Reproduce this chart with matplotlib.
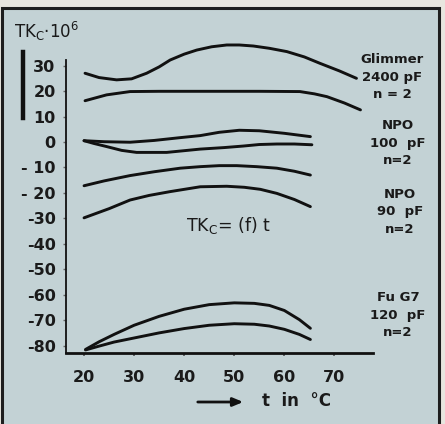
import matplotlib
matplotlib.use("Agg")
import matplotlib.pyplot as plt
from matplotlib.patches import Rectangle, FancyArrowPatch
from matplotlib.lines import Line2D

# ---- data ----
x_ticks = [20, 30, 40, 50, 60, 70]
y_ticks = [30, 20, 10, 0, -10, -20, -30, -40, -50, -60, -70, -80]
y_tick_labels = ["30", "20", "10", "0", "- 10", "- 20", "-30", "-40", "-50", "-60", "-70", "-80"]

glimmer_up_t = [20.2, 23, 26.5, 29.5, 32.5, 35, 37.2, 40, 42.5, 45.5, 48.5, 51, 53.8, 57, 60.5, 64, 67.1, 71, 74.4]
glimmer_up_v = [27.0, 25.3, 24.4, 24.8, 27.0, 29.5, 32.2, 34.5, 36.1, 37.4, 38.1, 38.1, 37.7, 36.8, 35.5, 33.4, 30.9, 27.9, 25.0]
glimmer_lo_t = [20.2, 24.5, 29.2, 35, 45, 55, 63.1, 66, 68.5, 72, 75.2]
glimmer_lo_v = [16.2, 18.5, 19.8, 19.9, 19.9, 19.9, 19.8, 18.9, 17.8, 15.3, 12.6]

npo100_up_t = [20, 24, 29.2, 34, 39.2, 43.2, 47, 51, 55, 60, 65.2]
npo100_up_v = [0.5, 0.1, -0.1, 0.6, 1.7, 2.5, 3.8, 4.6, 4.4, 3.4, 2.1]
npo100_lo_t = [20, 22, 24.5, 27.5, 30.5, 36.5, 43.2, 48, 51.8, 55, 58.5, 62, 65.5]
npo100_lo_v = [0.5, -0.6, -1.8, -3.3, -4.1, -4.1, -2.8, -2.2, -1.6, -1.0, -0.8, -0.8, -1.1]

npo90_up_t = [20, 24, 29.2, 34, 39.2, 43.2, 47, 50.5, 54.5, 58.5, 62, 65.2]
npo90_up_v = [-17.2, -15.3, -13.2, -11.7, -10.3, -9.7, -9.3, -9.3, -9.7, -10.3, -11.5, -13.0]
npo90_lo_t = [20, 25, 29.2, 33, 37.2, 43.2, 48.5, 52, 55.2, 58.5, 62, 65.2]
npo90_lo_v = [-29.8, -26.2, -22.8, -21.0, -19.5, -17.6, -17.4, -17.8, -18.6, -20.2, -22.6, -25.4]

fug7_up_t = [20.3, 23, 26, 30, 35, 40, 45, 50, 54, 57, 60, 63, 65.2]
fug7_up_v = [-81.5, -78.5, -75.6, -72.0, -68.5, -65.7, -63.9, -63.2, -63.4, -64.2, -66.2, -69.8, -73.2]
fug7_lo_t = [20.3, 23, 26, 30, 35, 40, 45, 50, 54, 57, 60, 63, 65.2]
fug7_lo_v = [-81.7, -80.2, -78.6, -77.0, -75.0, -73.3, -72.0, -71.4, -71.6, -72.3, -73.6, -75.6, -77.6]

series_labels = ["Glimmer\n2400 pF\nn = 2", "NPO\n100  pF\nn=2", "NPO\n90  pF\nn=2", "Fu G7\n120  pF\nn=2"]

# ---- figure ----
W, H = 445, 424
fig = plt.figure(figsize=(W / 100, H / 100), dpi=100)
fig.patch.set_facecolor("#e8e6df")

def fx(px):
    return px / W

def fy(py):
    return 1 - py / H

bg = Rectangle((fx(2), -0.05), fx(439) - fx(2), fy(8) + 0.05, transform=fig.transFigure,
               facecolor="#c3d2d5", edgecolor="#1e1e1e", linewidth=2.2, zorder=-5)
fig.patches.append(bg)

ax = fig.add_axes([fx(66), fy(353), fx(373) - fx(66), fy(60) - fy(353)])
ax.set_zorder(2)
ax.set_facecolor("none")
ax.set_xlim(16.4, 77.7)
ax.set_ylim(-82.9, 32.2)
for s in ["top", "right"]:
    ax.spines[s].set_visible(False)
ax.spines["left"].set_linewidth(1.3)
ax.spines["bottom"].set_linewidth(2.0)
ax.spines["left"].set_color("#111111")
ax.spines["bottom"].set_color("#111111")

ax.set_xticks(x_ticks)
ax.set_xticklabels([str(v) for v in x_ticks])
ax.set_yticks(y_ticks)
ax.set_yticklabels(y_tick_labels)
ax.tick_params(axis="x", length=2.5, width=1.2, color="#555555", pad=10, labelsize=11.5, labelcolor="#1a1a1a")
ax.tick_params(axis="y", length=2.5, width=1.0, color="#666666", pad=5, labelsize=11.5, labelcolor="#1a1a1a")
for lab in ax.get_xticklabels() + ax.get_yticklabels():
    lab.set_fontweight("bold")

curves = [
    (glimmer_up_t, glimmer_up_v), (glimmer_lo_t, glimmer_lo_v),
    (npo100_up_t, npo100_up_v), (npo100_lo_t, npo100_lo_v),
    (npo90_up_t, npo90_up_v), (npo90_lo_t, npo90_lo_v),
    (fug7_up_t, fug7_up_v), (fug7_lo_t, fug7_lo_v),
]
for t, v in curves:
    ax.plot(t, v, color="#111111", lw=2.1, solid_capstyle="round", solid_joinstyle="round", clip_on=False)

# series labels (right side)
label_pos = [(392, 62), (398, 128), (400, 197), (398, 300)]
for txt, (px, py) in zip(series_labels, label_pos):
    fig.text(fx(px), fy(py - 9), txt, ha="center", va="top", fontsize=9.5, fontweight="bold",
             color="#1a1a1a", linespacing=1.45)

# y-axis title
fig.text(fx(14), fy(38), r"TK$_\mathregular{C}$·10$^\mathregular{6}$", ha="left", va="baseline",
         fontsize=12, color="#1a1a1a")

# formula
fig.text(fx(186), fy(225), r"TK$_\mathregular{C}$= (f) t", ha="left", va="center",
         fontsize=12.5, color="#1a1a1a")

# x axis caption with arrow
fig.patches.append(FancyArrowPatch((fx(195), fy(402)), (fx(246), fy(402)),
                   transform=fig.transFigure, arrowstyle="-|>,head_length=6,head_width=2.5",
                   color="#111111", lw=2.0, mutation_scale=1))
fig.text(fx(262), fy(401), "t  in  °C", ha="left", va="center", fontsize=12, fontweight="bold",
         color="#1a1a1a")

# thick vertical mark at left
fig.lines.append(Line2D([fx(23), fx(23)], [fy(52), fy(118)], transform=fig.transFigure,
                        color="#111111", lw=3.2))

fig.savefig("out.png", dpi=100, facecolor=fig.get_facecolor())
